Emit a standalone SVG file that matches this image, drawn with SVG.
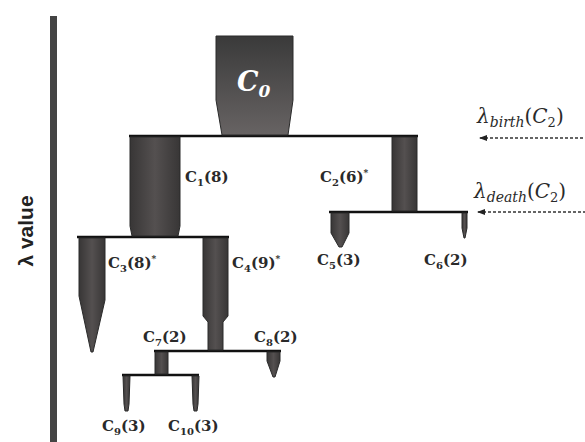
<svg xmlns="http://www.w3.org/2000/svg" width="585" height="442" viewBox="0 0 585 442">
<defs>
<linearGradient id="gv" x1="0" y1="0" x2="0" y2="1">
<stop offset="0" stop-color="#3a3a3a"/>
<stop offset="1" stop-color="#676363"/>
</linearGradient>
<linearGradient id="gh" x1="0" y1="0" x2="1" y2="0">
<stop offset="0" stop-color="#383636"/>
<stop offset="0.5" stop-color="#545050"/>
<stop offset="1" stop-color="#383636"/>
</linearGradient>
<marker id="ah" markerWidth="8" markerHeight="8" refX="1" refY="4" orient="auto" markerUnits="userSpaceOnUse">
<path d="M8,1 L0,4 L8,7 Z" fill="#222"/>
</marker>
</defs>
<style>
.bar{fill:url(#gh);stroke:#2a2a2a;stroke-width:1}
.lbl{font-family:"DejaVu Serif","Liberation Serif",serif;font-weight:bold;font-size:15px;fill:#2a2a2a}
.sub{font-size:10px}
.sup{font-size:9px}
.link{stroke:#111;stroke-width:2.5;fill:none}
.arr{stroke:#333;stroke-width:1.5;stroke-dasharray:3,2;fill:none}
.math{font-family:"DejaVu Serif","Liberation Serif",serif;font-style:italic;font-size:20px;fill:#2a2a2a}
</style>
<rect width="585" height="442" fill="#fff"/>

<g id="axis">
<rect x="50" y="16" width="7" height="426" fill="#444"/>
<text x="0" y="0" transform="translate(33,231) rotate(-90)" text-anchor="middle" font-family="Liberation Sans, Arial, sans-serif" font-weight="bold" font-size="21" fill="#222">λ value</text>
</g>

<g id="connectors">
<line class="link" x1="129" y1="136" x2="418" y2="136"/>
<line class="link" x1="77" y1="237" x2="229" y2="237"/>
<line class="link" x1="329" y1="212" x2="468" y2="212"/>
<line class="link" x1="154" y1="351" x2="281" y2="351"/>
<line class="link" x1="122" y1="375" x2="199" y2="375"/>
<line class="arr" x1="480" y1="138" x2="585" y2="138" marker-start="url(#ah)"/>
<line class="arr" x1="478" y1="212" x2="585" y2="212" marker-start="url(#ah)"/>
</g>

<g id="C0">
<path d="M216,36 L293,36 L293,100 L288,135 L222,135 L216,100 Z" fill="url(#gv)" stroke="#2a2a2a" stroke-width="1"/>
<text x="237" y="91" font-family="DejaVu Serif, Liberation Serif, serif" font-style="italic" font-weight="bold" font-size="27" fill="#fff">C<tspan font-size="17" dy="6">0</tspan></text>
</g>

<g id="C1">
<path class="bar" d="M130,137 L180,137 L180,226 L178,236 L132,236 L130,226 Z"/>
<text class="lbl" x="185" y="182">C<tspan class="sub" dy="4">1</tspan><tspan dy="-4">(8)</tspan></text>
</g>

<g id="C2">
<path class="bar" d="M392,137 L417,137 L417,211 L392,211 Z"/>
<text class="lbl" x="320" y="182">C<tspan class="sub" dy="4">2</tspan><tspan dy="-4">(6)</tspan><tspan class="sup" dy="-6">*</tspan></text>
</g>

<g id="C3">
<path class="bar" d="M79,238 L105,238 L105,300 L93,352 L91,352 L79,296 Z"/>
<text class="lbl" x="108" y="268">C<tspan class="sub" dy="4">3</tspan><tspan dy="-4">(8)</tspan><tspan class="sup" dy="-6">*</tspan></text>
</g>

<g id="C4">
<path class="bar" d="M203,238 L228,238 L228,316 L223,322 L223,350 L208,350 L208,322 L203,316 Z"/>
<text class="lbl" x="232" y="268">C<tspan class="sub" dy="4">4</tspan><tspan dy="-4">(9)</tspan><tspan class="sup" dy="-6">*</tspan></text>
</g>

<g id="C5">
<path class="bar" d="M331,213 L349,213 L349,233 L342,247 L339,247 L331,233 Z"/>
<text class="lbl" x="317" y="265">C<tspan class="sub" dy="4">5</tspan><tspan dy="-4">(3)</tspan></text>
</g>

<g id="C6">
<path class="bar" d="M462,213 L467,213 L467,228 L465,238 L464,238 L462,228 Z"/>
<text class="lbl" x="424" y="265">C<tspan class="sub" dy="4">6</tspan><tspan dy="-4">(2)</tspan></text>
</g>

<g id="C7">
<path class="bar" d="M155,352 L168,352 L168,374 L155,374 Z"/>
<text class="lbl" x="143" y="342">C<tspan class="sub" dy="4">7</tspan><tspan dy="-4">(2)</tspan></text>
</g>

<g id="C8">
<path class="bar" d="M267,352 L280,352 L280,361 L275,377 L273,377 L267,361 Z"/>
<text class="lbl" x="254" y="342">C<tspan class="sub" dy="4">8</tspan><tspan dy="-4">(2)</tspan></text>
</g>

<g id="C9">
<path class="bar" d="M123,376 L130,376 L129,404 L128,411 L125,411 L124,404 Z"/>
<text class="lbl" x="102" y="431">C<tspan class="sub" dy="4">9</tspan><tspan dy="-4">(3)</tspan></text>
</g>

<g id="C10">
<path class="bar" d="M192,376 L199,376 L198,404 L197,411 L194,411 L193,404 Z"/>
<text class="lbl" x="168" y="431">C<tspan class="sub" dy="4">10</tspan><tspan dy="-4">(3)</tspan></text>
</g>

<g id="lambda-labels">
<text class="math" x="477" y="123">λ<tspan font-size="14" dy="4">birth</tspan><tspan dy="-4" font-style="normal">(</tspan>C<tspan font-size="13" dy="4" font-style="normal">2</tspan><tspan dy="-4" font-style="normal">)</tspan></text>
<text class="math" x="474" y="198">λ<tspan font-size="14" dy="4">death</tspan><tspan dy="-4" font-style="normal">(</tspan>C<tspan font-size="13" dy="4" font-style="normal">2</tspan><tspan dy="-4" font-style="normal">)</tspan></text>
</g>
</svg>
